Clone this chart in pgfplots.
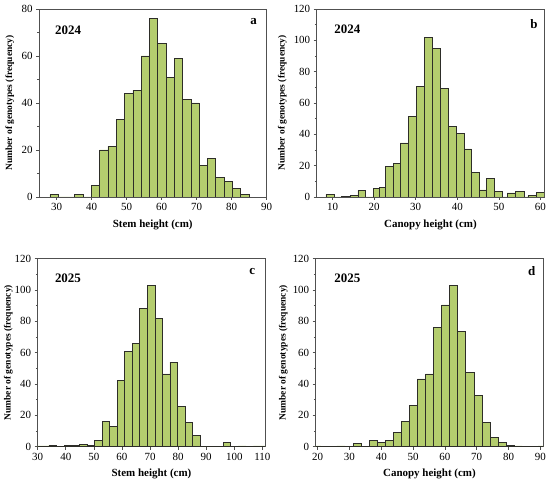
\documentclass[border=0pt]{standalone}
\usepackage{pgfplots}
\pgfplotsset{compat=1.18}
\usepackage{fontspec}
\setmainfont{Liberation Serif}
\definecolor{barg}{RGB}{180,205,110}
\definecolor{edg}{RGB}{45,45,40}
\definecolor{frm}{RGB}{80,80,80}
\pgfplotsset{
  hist/.style={
    scale only axis, width=227.5bp, height=188bp,
    anchor=south west,
    axis line style={frm, line width=0.7pt},
    tick style={frm, line width=0.6pt},
    tick align=outside, xtick pos=bottom, ytick pos=left,
    major tick length=3bp, minor tick length=1.8bp,
    minor y tick num=1,
    ymin=0,
    /pgf/number format/assume math mode=true,
    ticklabel style={font=\fontsize{11}{13}\selectfont},
    xlabel style={font=\bfseries\fontsize{11}{13}\selectfont, at={(axis description cs:0.5,-0.147)}, anchor=center},
    ylabel style={font=\bfseries\fontsize{9.5}{11}\selectfont, anchor=center},
    ylabel={Number of genotypes (frequency)},
    scaled ticks=false,
  },
  bars/.style={ybar interval, fill=barg, draw=edg, line width=0.6pt},
}
\tikzset{
  yr/.style={font=\bfseries\fontsize{13}{15}\selectfont},
  pl/.style={font=\bfseries\fontsize{13}{15}\selectfont},
}
\begin{document}
\begin{tikzpicture}[x=1bp,y=1bp]
\useasboundingbox (0,0) rectangle (550,485);
% ---------- a ----------
\begin{axis}[hist, at={(39bp,288bp)},
  xmin=25, xmax=90, ymax=80, xtick={30,40,...,90}, ytick={0,20,...,80},
  xlabel={Stem height (cm)},
  ylabel style={at={(axis description cs:-0.128,0.5)}}]
\addplot[bars] table {
x y
28.10 1
30.47 0
32.84 0
35.21 1
37.58 0
39.95 5
42.32 20
44.69 21.5
47.06 33
49.43 44
51.80 45.5
54.17 60
56.54 76
58.91 65.5
61.28 51
63.65 59
66.02 41.5
68.39 40
70.76 13.5
73.13 16.5
75.50 8.5
77.87 6.5
80.24 3.5
82.61 1
84.98 0
};
\node[yr] at (rel axis cs:0.128,0.888) {2024};
\node[pl] at (rel axis cs:0.943,0.931) {a};
\end{axis}
% ---------- b ----------
\begin{axis}[hist, at={(316.7bp,288bp)},
  xmin=6.2, xmax=60.9, ymax=120, xtick={10,20,...,60}, ytick={0,20,...,120},
  xlabel={Canopy height (cm)},
  ylabel style={at={(axis description cs:-0.151,0.5)}}]
\addplot[bars] table {
x y
8.4 1.7
10.5 0
12.2 0.5
14.2 0.8
16.1 4.3
18.0 0
19.8 5.7
21.2 6
22.64 19.5
24.64 21.4
26.24 34.5
28.24 51.5
30.24 70.8
32.08 101.7
34.0 95
36.0 69.3
37.84 45.3
39.84 40.7
41.68 30.7
43.44 15.9
45.28 4.5
47.04 12.1
48.88 3.8
50.8 0
52.0 2.6
54.0 3.8
56.08 0
57.0 0.8
59.0 3.0
60.9 0
};
\node[yr] at (rel axis cs:0.135,0.892) {2024};
\node[pl] at (rel axis cs:0.955,0.92) {b};
\end{axis}
% ---------- c ----------
\begin{axis}[hist, at={(37.7bp,38.3bp)},
  xmin=30, xmax=111, ymax=120, xtick={30,40,...,110}, ytick={0,20,...,120},
  xlabel={Stem height (cm)},
  ylabel style={at={(axis description cs:-0.129,0.5)}}]
\addplot[bars] table {
x y
28.7 0.5
31.4 0.5
34.0 1
36.7 0
39.4 1
42.1 1
44.8 1.5
47.5 1
50.2 4
52.9 16.4
55.6 13.2
58.3 42.2
60.96 61
63.65 66
66.3 88.5
69.0 103
71.7 81.7
74.4 46.5
77.1 54
79.8 25.6
82.5 15.6
85.2 7.2
87.9 0
90.6 0
93.3 0
96.0 2.8
98.7 0
101.4 0.5
104.1 0
106.8 0.5
109.5 0.5
112.2 0
};
\node[yr] at (rel axis cs:0.133,0.897) {2025};
\node[pl] at (rel axis cs:0.943,0.932) {c};
\end{axis}
% ---------- d ----------
\begin{axis}[hist, at={(315.7bp,38.3bp)},
  xmin=19.4, xmax=90.9, ymax=120, xtick={20,30,...,90}, ytick={0,20,...,120},
  xlabel={Canopy height (cm)},
  ylabel style={at={(axis description cs:-0.142,0.5)}}]
\addplot[bars] table {
x y
18.49 0.5
21.02 0
23.55 0
26.08 0.5
28.61 0
31.14 2.1
33.67 0
36.2 4
38.73 2.8
41.26 4
43.79 9
46.32 16.4
48.85 26.2
51.38 43.3
53.91 46.5
56.44 76.1
58.97 90.5
61.5 103.2
64.03 73.6
66.56 47.5
69.09 32.6
71.62 15.4
74.15 6
76.68 2.8
79.21 0.9
81.74 0.5
84.27 0
86.8 0
89.33 0.5
91.86 0
};
\node[yr] at (rel axis cs:0.139,0.897) {2025};
\node[pl] at (rel axis cs:0.95,0.932) {d};
\end{axis}
\end{tikzpicture}
\end{document}
